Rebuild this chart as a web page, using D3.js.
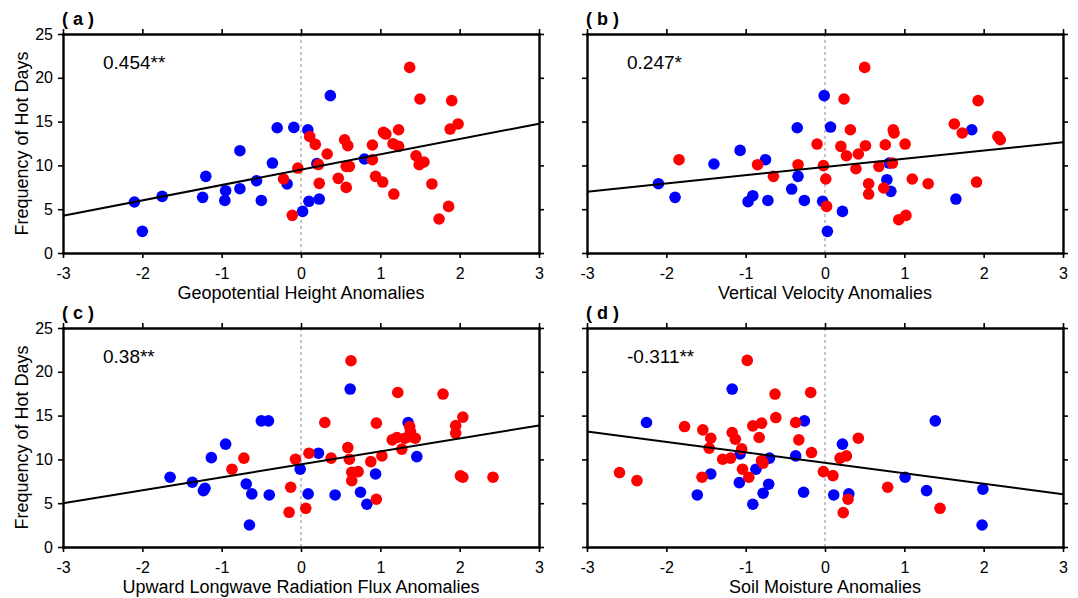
<!DOCTYPE html>
<html>
<head>
<meta charset="utf-8">
<script src="https://cdn.jsdelivr.net/npm/d3@7"></script>
<style>
  body { margin: 0; background: #fff; }
  svg { display: block; }
  text { font-family: Arial, "Liberation Sans", sans-serif; }
</style>
</head>
<body>
<svg id="chart" width="1078" height="598"></svg>
<script>
var xTicks = [-3, -2, -1, 0, 1, 2, 3];
var yTicks = [0, 5, 10, 15, 20, 25];

// (a) geopotential height: [anomaly, hot days]
var geoBlue = [[-2.10,5.82],[-2.00,2.47],[-1.75,6.46],[-1.24,6.35],[-1.20,8.75],[-0.95,7.11],[-0.96,6.0],[-0.77,7.34],[-0.77,11.68],[-0.56,8.25],[-0.50,6.0],[-0.36,10.27],[-0.30,14.3],[-0.09,14.34],[-0.175,7.88],[0.086,14.07],[0.37,17.96],[0.02,4.75],[0.10,5.9],[0.23,6.16],[0.20,10.2],[0.80,10.73]];
var geoRed = [[-0.22,8.45],[-0.11,4.3],[-0.04,9.7],[0.11,13.3],[0.18,12.4],[0.22,10.1],[0.23,7.95],[0.33,11.3],[0.47,8.52],[0.55,12.93],[0.59,12.25],[0.57,9.89],[0.61,9.89],[0.57,7.49],[0.90,12.33],[0.90,10.65],[0.94,8.75],[1.03,8.1],[1.04,13.77],[1.07,13.58],[1.17,6.73],[1.16,12.48],[1.23,12.17],[1.23,14.07],[1.37,21.19],[1.50,17.58],[1.45,11.1],[1.49,10.08],[1.55,10.39],[1.65,7.88],[1.74,3.88],[1.86,5.32],[1.88,14.15],[1.90,17.39],[1.98,14.73]];
var geoFit = [[-3,4.26],[3,14.76]];

// (b) vertical velocity
var vvBlue = [[-2.10,7.91],[-1.89,6.35],[-1.40,10.16],[-1.07,11.71],[-0.75,10.65],[-0.97,5.86],[-0.91,6.54],[-0.72,6.0],[-0.35,14.3],[-0.34,8.75],[-0.42,7.3],[-0.26,6.0],[-0.03,5.9],[-0.01,17.96],[0.07,14.38],[0.22,4.75],[0.03,2.47],[0.78,8.37],[0.83,7.04],[0.81,10.27],[1.65,6.16],[1.85,14.07]];
var vvRed = [[-1.84,10.65],[-0.85,10.08],[-0.65,8.75],[-0.34,10.08],[-0.10,12.44],[-0.02,9.97],[0.01,8.45],[0.02,5.32],[0.24,17.58],[0.32,14.07],[0.20,12.17],[0.27,11.1],[0.42,11.3],[0.39,9.62],[0.51,12.25],[0.50,21.19],[0.55,7.91],[0.55,6.73],[0.76,12.36],[0.68,9.89],[0.74,7.42],[0.85,10.27],[0.86,14.07],[0.87,13.7],[1.01,12.44],[0.93,3.8],[1.02,4.29],[1.10,8.45],[1.30,7.91],[1.63,14.73],[1.73,13.7],[1.93,17.39],[1.91,8.1],[2.18,13.3],[2.21,12.93]];
var vvFit = [[-3,7.0],[3,12.63]];

// (c) upward longwave radiation flux
var ulwBlue = [[-1.65,7.97],[-1.37,7.39],[-1.23,6.44],[-1.21,6.7],[-1.13,10.2],[-0.95,11.74],[-0.69,7.2],[-0.62,6.06],[-0.65,2.51],[-0.50,14.4],[-0.41,14.4],[-0.40,5.94],[-0.01,8.88],[0.09,6.06],[0.22,10.71],[0.43,5.94],[0.62,18.03],[0.75,6.25],[0.83,4.88],[0.94,8.34],[1.35,14.21],[1.46,10.32]];
var ulwRed = [[-0.87,8.88],[-0.72,10.14],[-0.13,6.82],[-0.15,3.96],[-0.07,10.02],[0.06,4.42],[0.10,10.71],[0.30,14.21],[0.38,10.14],[0.59,11.35],[0.61,10.02],[0.63,21.26],[0.64,8.54],[0.72,8.61],[0.64,7.58],[0.88,9.75],[0.95,14.14],[0.95,5.45],[1.02,10.4],[1.15,12.23],[1.21,12.5],[1.22,17.64],[1.27,11.17],[1.31,12.42],[1.37,13.75],[1.38,13.18],[1.38,12.61],[1.44,12.42],[1.79,17.46],[1.95,13.87],[1.95,13.0],[2.04,14.83],[2.01,8.12],[2.04,7.97],[2.42,7.97]];
var ulwFit = [[-3,5.0],[3,13.88]];

// (d) soil moisture
var smBlue = [[-2.25,14.21],[-1.17,18.03],[-1.61,5.94],[-1.44,8.34],[-1.08,7.35],[-1.07,10.63],[-0.91,4.88],[-0.87,8.88],[-0.78,6.14],[-0.71,7.17],[-0.70,10.14],[-0.37,10.4],[-0.26,14.4],[-0.27,6.25],[0.22,11.74],[0.11,5.94],[0.30,6.06],[1.01,7.97],[1.28,6.44],[1.39,14.4],[1.99,6.6],[1.98,2.51]];
var smRed = [[-2.59,8.5],[-2.37,7.58],[-1.77,13.75],[-1.54,13.37],[-1.44,12.42],[-1.46,11.28],[-1.55,7.97],[-1.29,10.02],[-1.19,10.14],[-1.17,13.07],[-1.13,12.31],[-1.05,11.2],[-1.04,8.88],[-0.96,7.97],[-0.98,21.3],[-0.91,13.83],[-0.80,14.14],[-0.83,12.5],[-0.80,9.87],[-0.78,9.57],[-0.63,17.46],[-0.62,14.78],[-0.37,14.21],[-0.33,12.23],[-0.18,17.64],[-0.17,10.78],[-0.02,8.61],[0.10,8.15],[0.19,10.14],[0.27,10.4],[0.42,12.42],[0.29,5.45],[0.23,3.92],[0.79,6.82],[1.45,4.42]];
var smFit = [[-3,13.19],[3,6.03]];

var panelTags = ["a", "b", "c", "d"];
var xTitles = ["Geopotential Height Anomalies", "Vertical Velocity Anomalies",
               "Upward Longwave Radiation Flux Anomalies", "Soil Moisture Anomalies"];
var corrLabels = ["0.454**", "0.247*", "0.38**", "-0.311**"];
var yTitle = "Frequency of Hot Days";

var panels = [
    {blue: geoBlue, red: geoRed, fit: geoFit, left: 63, top: 34, yLabels: true},
    {blue: vvBlue, red: vvRed, fit: vvFit, left: 587, top: 34, yLabels: false},
    {blue: ulwBlue, red: ulwRed, fit: ulwFit, left: 63, top: 328, yLabels: true},
    {blue: smBlue, red: smRed, fit: smFit, left: 587, top: 328, yLabels: false}
];

var width = 476, height = 219;
var svg = d3.select("#chart");
var plain = function (d) { return String(d); }; // hyphen minus, no decimals

panels.forEach(function (p, i) {
    var g = svg.append("g").attr("transform", "translate(" + p.left + "," + p.top + ")");
    var x = d3.scaleLinear().domain([-3, 3]).range([0, width]);
    var y = d3.scaleLinear().domain([0, 25]).range([height, 0]);

    // zero line
    g.append("line")
        .attr("x1", x(0)).attr("x2", x(0))
        .attr("y1", 0).attr("y2", height)
        .attr("stroke", "#8c8c8c")
        .attr("stroke-width", 1)
        .attr("stroke-dasharray", "3,3");

    // points: blue first, red on top
    g.append("g").selectAll("circle")
        .data(p.blue).enter().append("circle")
        .attr("cx", function (d) { return x(d[0]); })
        .attr("cy", function (d) { return y(d[1]); })
        .attr("r", 5.8)
        .attr("fill", "#0000ff");
    g.append("g").selectAll("circle")
        .data(p.red).enter().append("circle")
        .attr("cx", function (d) { return x(d[0]); })
        .attr("cy", function (d) { return y(d[1]); })
        .attr("r", 5.8)
        .attr("fill", "#ff0000");

    // regression line
    g.append("path")
        .datum(p.fit)
        .attr("fill", "none")
        .attr("stroke", "#000")
        .attr("stroke-width", 2)
        .attr("d", d3.line()
            .x(function (d) { return x(d[0]); })
            .y(function (d) { return y(d[1]); }));

    // axes, box style with outward ticks
    var bottom = g.append("g").attr("transform", "translate(0," + height + ")")
        .call(d3.axisBottom(x).tickValues(xTicks).tickSize(5).tickSizeOuter(0).tickPadding(10).tickFormat(plain));
    var top = g.append("g")
        .call(d3.axisTop(x).tickValues(xTicks).tickSize(5).tickSizeOuter(0).tickFormat(""));
    var left = g.append("g")
        .call(d3.axisLeft(y).tickValues(yTicks).tickSize(5).tickSizeOuter(0).tickPadding(5)
            .tickFormat(p.yLabels ? plain : ""));
    var right = g.append("g").attr("transform", "translate(" + width + ",0)")
        .call(d3.axisRight(y).tickValues(yTicks).tickSize(5).tickSizeOuter(0).tickFormat(""));

    [bottom, top, left, right].forEach(function (a) {
        a.select(".domain").attr("stroke", "#000").attr("stroke-width", 2.4).attr("stroke-linecap", "square");
        a.selectAll(".tick line").attr("stroke", "#000").attr("stroke-width", 1.6);
        a.selectAll(".tick text").attr("fill", "#000")
            .style("font-size", "16px")
            .style("font-family", "Arial, 'Liberation Sans', sans-serif");
    });

    // panel tag
    g.append("text")
        .attr("x", -1).attr("y", -9.5)
        .style("font-size", "18px")
        .style("font-weight", "bold")
        .text("( " + panelTags[i] + " )");

    // correlation
    g.append("text")
        .attr("x", 40).attr("y", 35)
        .style("font-size", "19px")
        .text(corrLabels[i]);

    // x title
    g.append("text")
        .attr("x", width / 2).attr("y", height + 46)
        .attr("text-anchor", "middle")
        .style("font-size", "18px")
        .text(xTitles[i]);

    // y title
    if (p.yLabels) {
        g.append("text")
            .attr("transform", "translate(-35," + (height / 2) + ") rotate(-90)")
            .attr("text-anchor", "middle")
            .style("font-size", "18px")
            .text(yTitle);
    }
});
</script>
</body>
</html>
